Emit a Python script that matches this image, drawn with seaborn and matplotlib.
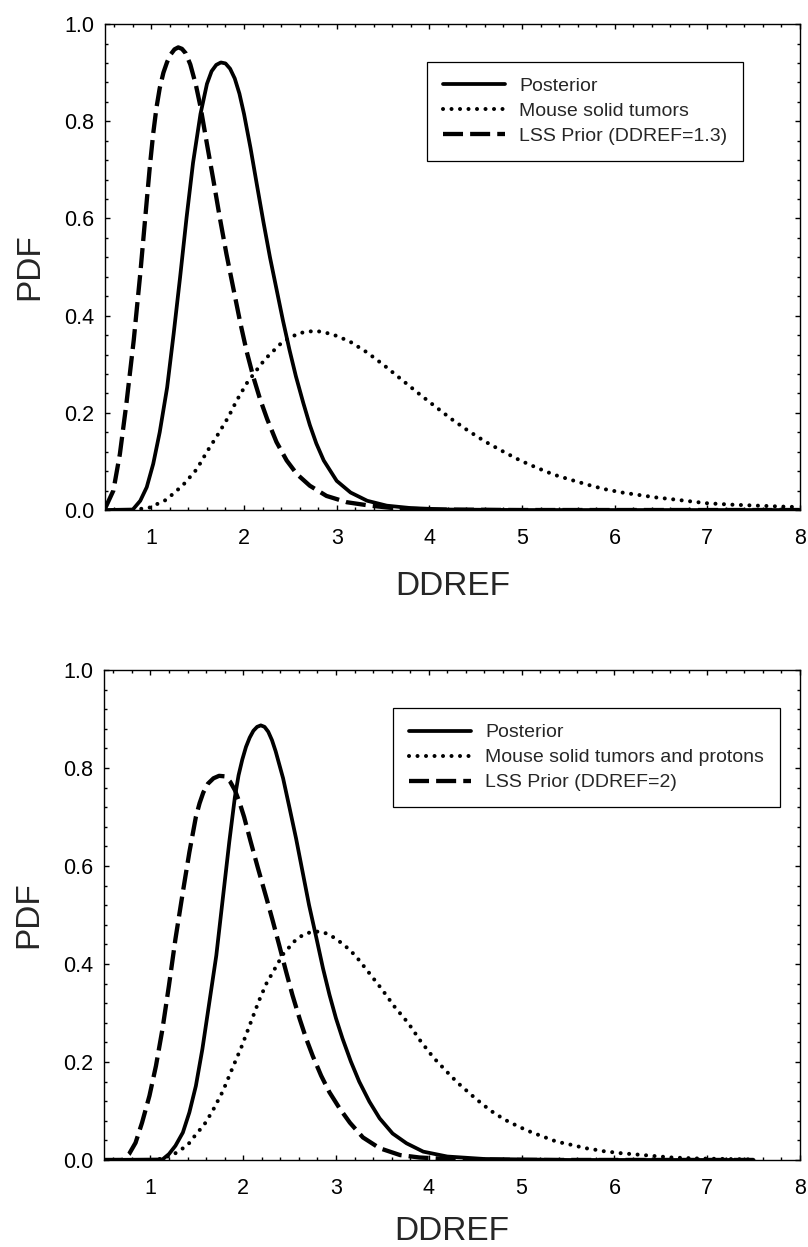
import matplotlib
matplotlib.use('Agg')
import matplotlib.pyplot as plt
from matplotlib.ticker import MultipleLocator, FormatStrFormatter
import seaborn as sns

# ---- top panel (LSS prior DDREF=1.3) ----
top_post_x = [0.5, 0.8, 0.88, 0.95, 1.02, 1.09, 1.17, 1.24, 1.31, 1.38, 1.45, 1.53, 1.6, 1.65,
              1.7, 1.75, 1.8, 1.85, 1.9, 1.95, 2.0, 2.07, 2.14, 2.21, 2.28, 2.35, 2.42, 2.49,
              2.56, 2.64, 2.71, 2.78, 2.86, 2.94, 3.0, 3.15, 3.33, 3.54, 3.8, 4.2, 5.0, 8.0]
top_post_y = [0.0, 0.001, 0.019, 0.047, 0.095, 0.16, 0.252, 0.362, 0.479, 0.602, 0.715, 0.815, 0.877, 0.903,
              0.916, 0.921, 0.919, 0.908, 0.888, 0.857, 0.815, 0.745, 0.668, 0.592, 0.52, 0.455, 0.39, 0.33,
              0.275, 0.22, 0.175, 0.137, 0.102, 0.078, 0.06, 0.036, 0.019, 0.009, 0.004, 0.001, 0.0, 0.0]

top_mouse_x = [0.8, 0.98, 1.16, 1.34, 1.49, 1.6, 1.72, 1.83, 1.92, 2.03, 2.16, 2.23, 2.41, 2.59,
               2.77, 2.95, 3.14, 3.33, 3.51, 3.69, 3.87, 4.05, 4.24, 4.42, 4.61, 4.8, 4.98, 5.16,
               5.34, 5.53, 5.71, 5.89, 6.08, 6.26, 6.44, 6.63, 6.81, 6.99, 7.27, 7.54, 7.82, 8.0]
top_mouse_y = [0.0, 0.005, 0.021, 0.051, 0.084, 0.12, 0.156, 0.191, 0.225, 0.261, 0.294, 0.311, 0.345, 0.364,
               0.369, 0.362, 0.347, 0.324, 0.298, 0.27, 0.242, 0.215, 0.187, 0.163, 0.14, 0.12, 0.102, 0.087,
               0.073, 0.062, 0.052, 0.043, 0.036, 0.031, 0.026, 0.022, 0.018, 0.014, 0.011, 0.009, 0.007, 0.006]

top_prior_x = [0.5, 0.59, 0.66, 0.73, 0.81, 0.88, 0.95, 0.985, 1.02, 1.055, 1.09, 1.13, 1.17, 1.21,
               1.25, 1.29, 1.33, 1.37, 1.42, 1.48, 1.53, 1.6, 1.67, 1.74, 1.81, 1.89, 1.96, 2.03,
               2.1, 2.17, 2.25, 2.35, 2.46, 2.57, 2.71, 2.89, 3.11, 3.36, 3.61, 4.0, 5.0, 8.0]
top_prior_y = [0.003, 0.04, 0.115, 0.218, 0.35, 0.486, 0.636, 0.71, 0.775, 0.828, 0.868, 0.9, 0.922, 0.938,
               0.948, 0.952, 0.949, 0.94, 0.917, 0.875, 0.83, 0.753, 0.678, 0.6, 0.527, 0.451, 0.385, 0.325,
               0.274, 0.23, 0.187, 0.14, 0.102, 0.074, 0.05, 0.029, 0.016, 0.009, 0.004, 0.001, 0.0, 0.0]

# ---- bottom panel (LSS prior DDREF=2) ----
bot_post_x = [0.5, 1.13, 1.2, 1.27, 1.35, 1.42, 1.49, 1.56, 1.63, 1.71, 1.78, 1.85, 1.91, 1.95,
              1.99, 2.03, 2.07, 2.11, 2.15, 2.19, 2.23, 2.27, 2.31, 2.35, 2.43, 2.5, 2.57, 2.64,
              2.71, 2.79, 2.86, 2.93, 3.0, 3.07, 3.16, 3.25, 3.36, 3.47, 3.61, 3.76, 3.94, 4.2,
              4.6, 5.5, 7.5]
bot_post_y = [0.0, 0.001, 0.012, 0.029, 0.056, 0.097, 0.151, 0.226, 0.315, 0.417, 0.533, 0.649, 0.74, 0.785,
              0.817, 0.843, 0.862, 0.876, 0.884, 0.887, 0.884, 0.874, 0.857, 0.834, 0.779, 0.718, 0.656, 0.588,
              0.52, 0.452, 0.391, 0.337, 0.289, 0.248, 0.201, 0.16, 0.119, 0.085, 0.054, 0.034, 0.017, 0.007,
              0.002, 0.0, 0.0]

bot_mouse_x = [1.1, 1.24, 1.4, 1.49, 1.58, 1.67, 1.78, 1.89, 1.98, 2.07, 2.17, 2.25, 2.34, 2.43,
               2.5, 2.57, 2.66, 2.75, 2.84, 2.93, 3.03, 3.11, 3.21, 3.36, 3.5, 3.63, 3.78, 3.91,
               4.05, 4.14, 4.23, 4.32, 4.41, 4.5, 4.59, 4.68, 4.77, 4.86, 4.96, 5.05, 5.14, 5.23,
               5.32, 5.41, 5.51, 5.6, 5.69, 5.79, 5.88, 5.97, 6.06, 6.25, 6.43, 6.62, 6.9, 7.2, 7.5]
bot_mouse_y = [0.002, 0.01, 0.03, 0.052, 0.072, 0.1, 0.14, 0.19, 0.23, 0.275, 0.325, 0.36, 0.39, 0.42,
               0.435, 0.45, 0.461, 0.466, 0.466, 0.46, 0.447, 0.435, 0.417, 0.381, 0.347, 0.313, 0.279, 0.243,
               0.209, 0.191, 0.173, 0.156, 0.141, 0.126, 0.112, 0.099, 0.088, 0.078, 0.069, 0.061, 0.054, 0.048,
               0.041, 0.036, 0.032, 0.028, 0.024, 0.021, 0.018, 0.016, 0.014, 0.011, 0.008, 0.005, 0.003, 0.002, 0.001]

bot_prior_x = [0.5, 0.7, 0.77, 0.84, 0.91, 0.99, 1.06, 1.13, 1.2, 1.27, 1.35, 1.42, 1.49, 1.53,
               1.57, 1.62, 1.68, 1.74, 1.8, 1.86, 1.91, 1.96, 2.01, 2.08, 2.16, 2.25, 2.32, 2.39,
               2.46, 2.53, 2.61, 2.68, 2.75, 2.84, 2.93, 3.04, 3.15, 3.29, 3.47, 3.69, 3.9, 4.3,
               5.0, 7.5]
bot_prior_y = [0.0, 0.0, 0.012, 0.035, 0.076, 0.131, 0.192, 0.267, 0.356, 0.451, 0.547, 0.628, 0.7, 0.728,
               0.75, 0.768, 0.779, 0.784, 0.783, 0.772, 0.755, 0.73, 0.7, 0.65, 0.595, 0.535, 0.487, 0.437,
               0.386, 0.337, 0.287, 0.247, 0.212, 0.172, 0.138, 0.105, 0.076, 0.046, 0.024, 0.01, 0.005, 0.001,
               0.0, 0.0]

top_labels = ['Posterior', 'Mouse solid tumors', 'LSS Prior (DDREF=1.3)']
bot_labels = ['Posterior', 'Mouse solid tumors and protons', 'LSS Prior (DDREF=2)']

sns.set_theme(style='ticks')
plt.rcParams['font.family'] = ['Liberation Sans', 'DejaVu Sans']

fig = plt.figure(figsize=(8.08, 12.47), dpi=100)
ax1 = fig.add_axes([0.1300, 0.5910, 0.8601, 0.3897])
ax2 = fig.add_axes([0.1287, 0.0698, 0.8614, 0.3929])

# line styles: solid / dotted / dashed
styles = [
    dict(lw=2.7, linestyle='-'),
    dict(lw=2.9, linestyle=(0, (0.01, 2.1)), dash_capstyle='round'),
    dict(lw=3.1, linestyle=(0, (4.65, 1.65)), dash_capstyle='butt'),
]


def draw_panel(ax, curves, labels, anchor, xlabelpad):
    for (xs, ys), st in zip(curves, styles):
        sns.lineplot(x=xs, y=ys, ax=ax, color='black', estimator=None, sort=False, **st)
    lines = ax.get_lines()
    ax.legend(lines, labels, loc='upper right', bbox_to_anchor=anchor, borderaxespad=0,
              fontsize=14, frameon=True, fancybox=False, framealpha=1, edgecolor='black',
              handlelength=3.2, handletextpad=0.75, borderpad=0.8, labelspacing=0.38)
    ax.get_legend().get_frame().set_linewidth(0.9)

    ax.set_xlim(0.5, 8)
    ax.set_ylim(0, 1)
    ax.set_xticks([1, 2, 3, 4, 5, 6, 7, 8])
    ax.xaxis.set_minor_locator(MultipleLocator(0.2))
    ax.yaxis.set_major_locator(MultipleLocator(0.2))
    ax.yaxis.set_minor_locator(MultipleLocator(0.04))
    ax.yaxis.set_major_formatter(FormatStrFormatter('%.1f'))
    ax.tick_params(which='both', direction='in', top=True, right=True, colors='black', width=1.0)
    ax.tick_params(which='major', length=3.6, labelsize=15.5)
    ax.tick_params(which='minor', length=2.2)
    ax.tick_params(axis='x', which='major', pad=13)
    ax.tick_params(axis='y', which='major', pad=8)
    for sp in ax.spines.values():
        sp.set_visible(True)
        sp.set_color('black')
        sp.set_linewidth(1.0)
    ax.set_xlabel('DDREF', fontsize=24, labelpad=xlabelpad)
    ax.set_ylabel('PDF', fontsize=24, labelpad=13)
    ax.set_facecolor('white')


draw_panel(ax1, [(top_post_x, top_post_y), (top_mouse_x, top_mouse_y), (top_prior_x, top_prior_y)],
           top_labels, (0.918, 0.922), 16)
draw_panel(ax2, [(bot_post_x, bot_post_y), (bot_mouse_x, bot_mouse_y), (bot_prior_x, bot_prior_y)],
           bot_labels, (0.971, 0.922), 12)

fig.savefig('out.png', dpi=100, facecolor='white')
